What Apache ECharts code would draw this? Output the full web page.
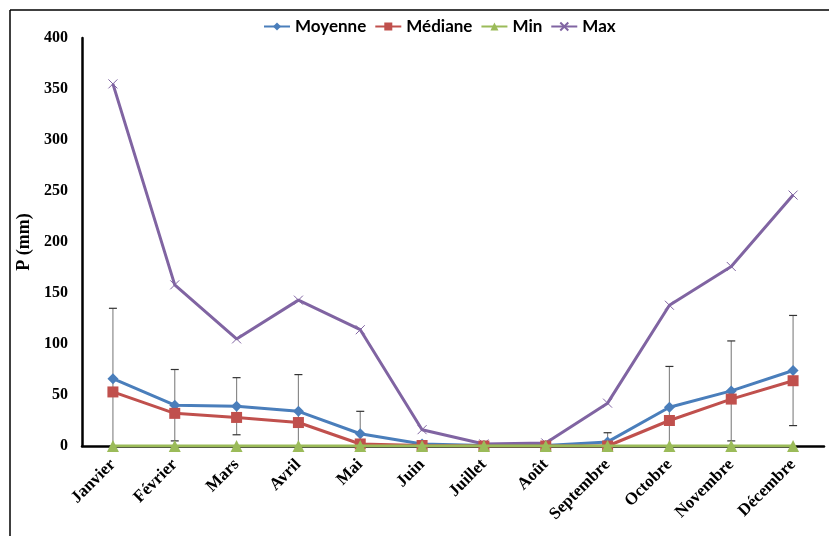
<!DOCTYPE html>
<html>
<head>
<meta charset="utf-8">
<script src="https://cdn.jsdelivr.net/npm/echarts@6/dist/echarts.min.js"></script>
<style>html,body{margin:0;padding:0;background:#fff;}#c{width:829px;height:536px;}</style>
</head>
<body>
<div id="c"></div>
<script>
const months = ['Janvier','Février','Mars','Avril','Mai','Juin','Juillet','Août','Septembre','Octobre','Novembre','Décembre'];
const moyenne = [66, 40, 39, 34, 12, 2, 0.5, 0.5, 4, 38, 54, 74];
const mediane = [53, 32, 28, 23, 2, 0.5, 0, 0, 0, 25, 46, 64];
const minVals = [0, 0, 0, 0, 0, 0, 0, 0, 0, 0, 0, 0];
const maxVals = [355, 158, 105, 143, 114, 16, 2, 3, 42, 138, 176, 246];
const ecartType = [69, 35, 28, 36, 22, 3, 0.5, 0.7, 9, 40, 49, 54];
const yTicks = [0, 50, 100, 150, 200, 250, 300, 350, 400];

const errData = months.map((m, i) => [i, Math.max(0, moyenne[i] - ecartType[i]), moyenne[i] + ecartType[i]]);

const chart = echarts.init(document.getElementById('c'), null, {renderer: 'canvas'});
const serif = '"Liberation Serif", "Times New Roman", serif';
chart.setOption({
  animation: false,
  backgroundColor: '#fff',
  graphic: [
    {type: 'line', shape: {x1: 10, y1: 10, x2: 829, y2: 10}, style: {stroke: '#000', lineWidth: 1.5}},
    {type: 'line', shape: {x1: 10, y1: 10, x2: 10, y2: 536}, style: {stroke: '#000', lineWidth: 1.5}}
  ],
  legend: {
    top: 13, left: 258,
    itemWidth: 26, itemHeight: 10, itemGap: 8,
    textStyle: {fontFamily: 'Lato, "Open Sans", sans-serif', fontWeight: 'bold', fontSize: 17, color: '#000'},
    data: ['Moyenne', 'Médiane', 'Min', 'Max']
  },
  grid: {left: 82, right: 5, top: 38, bottom: 90},
  xAxis: {
    type: 'category', data: months, boundaryGap: true,
    axisLine: {lineStyle: {color: '#000', width: 2.5}},
    axisTick: {show: false},
    axisLabel: {rotate: 45, margin: 16, interval: 0, color: '#000', fontFamily: serif, fontWeight: 'bold', fontSize: 17}
  },
  yAxis: {
    type: 'value', min: 0, max: 400, interval: 50,
    name: 'P (mm)', nameLocation: 'middle', nameGap: 46, nameRotate: 90,
    nameTextStyle: {fontFamily: serif, fontWeight: 'bold', fontSize: 18, color: '#000'},
    axisLine: {show: true, lineStyle: {color: '#000', width: 2.5}},
    axisTick: {show: false},
    splitLine: {show: false},
    axisLabel: {margin: 14, color: '#000', fontFamily: serif, fontWeight: 'bold', fontSize: 16,
      formatter: v => yTicks.includes(v) ? String(v) : ''}
  },
  series: [
    {
      type: 'custom', name: 'err', z: 1, silent: true,
      data: errData,
      renderItem: function (params, api) {
        const x = api.coord([api.value(0), 0])[0];
        const lo = api.coord([api.value(0), api.value(1)])[1];
        const hi = api.coord([api.value(0), api.value(2)])[1];
        const w = 4;
        return {type: 'group', children: [
          {type: 'line', shape: {x1: x, y1: lo, x2: x, y2: hi}, style: {stroke: '#8a8a8a', lineWidth: 1.2}},
          {type: 'line', shape: {x1: x - w, y1: hi, x2: x + w, y2: hi}, style: {stroke: '#333', lineWidth: 1.2}},
          {type: 'line', shape: {x1: x - w, y1: lo, x2: x + w, y2: lo}, style: {stroke: '#333', lineWidth: 1.2}}
        ]};
      }
    },
    {
      name: 'Max', type: 'line', data: maxVals, z: 3,
      symbol: 'path://M0,0L10,10M10,0L0,10', symbolSize: 9,
      lineStyle: {color: '#8064A2', width: 3},
      itemStyle: {color: '#8064A2', borderColor: '#8064A2', borderWidth: 1}
    },
    {
      name: 'Moyenne', type: 'line', data: moyenne, z: 4,
      symbol: 'diamond', symbolSize: 11,
      lineStyle: {color: '#4A7EBB', width: 3},
      itemStyle: {color: '#4A7EBB'}
    },
    {
      name: 'Médiane', type: 'line', data: mediane, z: 5,
      symbol: 'rect', symbolSize: 11,
      lineStyle: {color: '#C0504D', width: 3},
      itemStyle: {color: '#C0504D'}
    },
    {
      name: 'Min', type: 'line', data: minVals, z: 6,
      symbol: 'triangle', symbolSize: 12,
      lineStyle: {color: '#9BBB59', width: 3},
      itemStyle: {color: '#9BBB59'}
    }
  ]
});
</script>
</body>
</html>
